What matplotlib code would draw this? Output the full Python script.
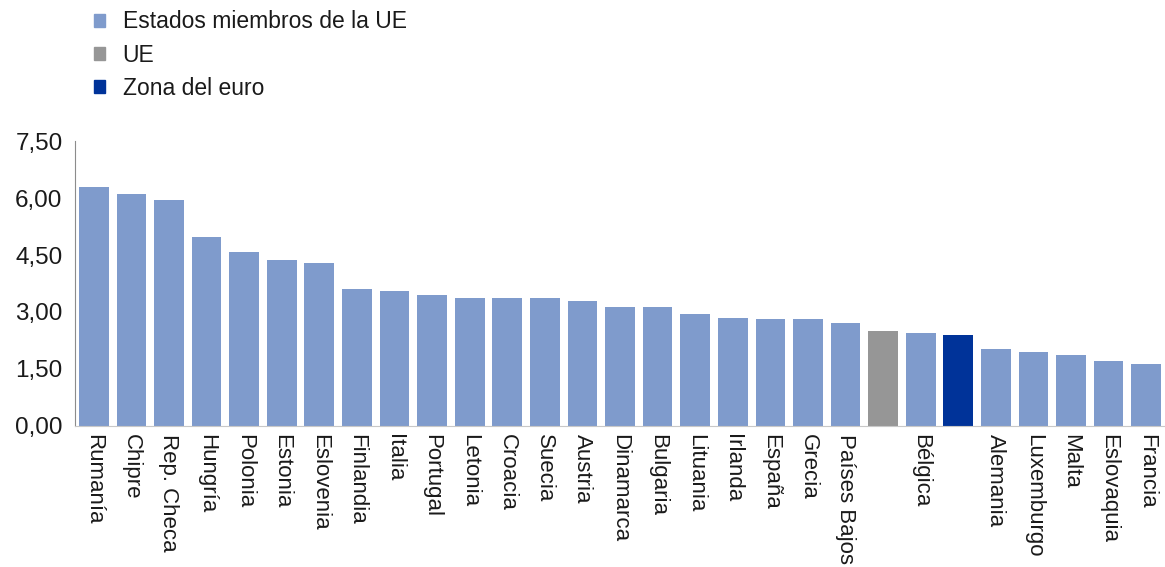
import matplotlib
matplotlib.use('Agg')
import matplotlib.pyplot as plt
from matplotlib.patches import Patch

plt.rcParams['font.family'] = ['Liberation Sans', 'DejaVu Sans']

paises = ["Rumanía", "Chipre", "Rep. Checa", "Hungría", "Polonia", "Estonia",
          "Eslovenia", "Finlandia", "Italia", "Portugal", "Letonia", "Croacia",
          "Suecia", "Austria", "Dinamarca", "Bulgaria", "Lituania", "Irlanda",
          "España", "Grecia", "Países Bajos", "", "Bélgica", "", "Alemania",
          "Luxemburgo", "Malta", "Eslovaquia", "Francia"]
valores = [6.30, 6.10, 5.95, 4.98, 4.57, 4.38, 4.28, 3.61, 3.54, 3.44, 3.38,
           3.38, 3.38, 3.28, 3.14, 3.12, 2.95, 2.83, 2.82, 2.81, 2.72, 2.50,
           2.45, 2.40, 2.02, 1.96, 1.86, 1.71, 1.64]
grupo = ["pais"] * 21 + ["ue", "pais", "euro"] + ["pais"] * 5

colores = {"pais": "#7F9BCC", "ue": "#969696", "euro": "#003399"}
leyenda = {"pais": "Estados miembros de la UE", "ue": "UE", "euro": "Zona del euro"}

yticks = [0, 1.5, 3.0, 4.5, 6.0, 7.5]

fig = plt.figure(figsize=(11.65, 5.67), dpi=100)
ax = fig.add_axes([0.0644, 0.2487, 0.9356, 0.5026])

x = range(len(paises))
ax.bar(x, valores, width=0.79, color=[colores[g] for g in grupo])

ax.set_xlim(-0.5, len(paises) - 0.5)
ax.set_ylim(0, 7.5)
ax.set_yticks(yticks)
ax.set_yticklabels([f"{v:.2f}".replace(".", ",") for v in yticks])
ax.set_xticks(list(x))
ax.set_xticklabels(paises, rotation=-90, ha='center', va='top')
ax.tick_params(axis='y', length=0, pad=9, labelsize=17.5, labelcolor='#1a1a1a')
ax.tick_params(axis='x', length=0, pad=6, labelsize=16, labelcolor='#1a1a1a')

for s in ['top', 'right']:
    ax.spines[s].set_visible(False)
ax.spines['left'].set_color('#8c8c8c')
ax.spines['bottom'].set_color('#c8c8c8')

handles = [Patch(color=colores[k], label=leyenda[k]) for k in ["pais", "ue", "euro"]]
fig.legend(handles=handles, loc='upper left', bbox_to_anchor=(0.063, 1.018),
           frameon=False, fontsize=16.5, handlelength=0.5, handleheight=0.5,
           handletextpad=0.75, labelspacing=0.45, labelcolor='#1a1a1a')

fig.savefig('out.png', dpi=100)
